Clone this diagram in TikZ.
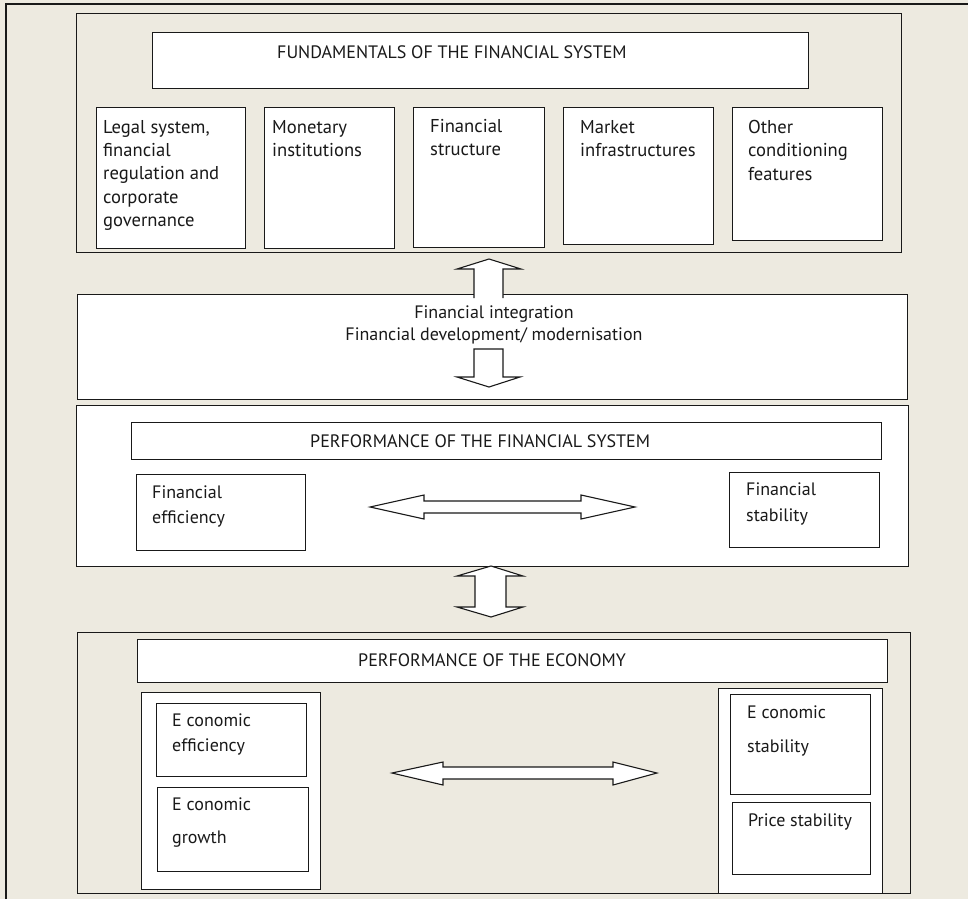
\documentclass[tikz,border=0pt]{standalone}
\usepackage{fontspec}
\setmainfont{PT Sans}
\definecolor{bg}{RGB}{237,234,224}
\definecolor{ink}{RGB}{25,25,25}
\newcommand{\boxat}[6]{\node[box, fill=#6, anchor=north west, inner sep=0pt,
  minimum width={(#4-#2)*1pt}, minimum height={(#5-#3)*1pt}] (#1) at (#2,#3) {};}
\begin{document}
\begin{tikzpicture}[x=1pt,y=-1pt,
  box/.style={draw=ink, line width=1.2pt},
  txt/.style={inner sep=0pt, anchor=north west, align=left, text=ink},
  fs/.style={font=\fontsize{18}{#1}\selectfont},
  fsb/.style={font=\fontsize{18.6}{#1}\selectfont},
  blockarrow/.style={draw=ink, fill=white, line width=1.1pt, line join=miter}]
\fill[bg] (0,0) rectangle (968,899);
\useasboundingbox (0,0) rectangle (968,899);
\coordinate (fa) at (6,899);
\coordinate (fb) at (6,4);
\coordinate (fc) at (968,4);
\draw[ink, line width=1.2pt] (fa) -- (fb) -- (fc);

% ---- Fundamentals
\boxat{fund}{76}{13}{901}{252}{bg}
\boxat{fundT}{152}{32}{808}{88}{white}
\boxat{s1}{96}{107}{245}{248}{white}
\boxat{s2}{264}{107}{394}{248}{white}
\boxat{s3}{413}{107}{544}{247}{white}
\boxat{s4}{563}{107}{713}{244}{white}
\boxat{s5}{732}{107}{882}{240}{white}
\node[txt, fs=18, anchor=west] (fundTt) at (277,52) {FUNDAMENTALS OF THE FINANCIAL SYSTEM};
\node[txt, fsb=23.3] (s1t) at (103,120) {Legal system,\\financial\\regulation and\\corporate\\governance};
\node[txt, fsb=23.3] (s2t) at (272,120) {Monetary\\institutions};
\node[txt, fsb=23.3] (s3t) at (430,119) {Financial\\structure};
\node[txt, fsb=23.3] (s4t) at (580,120) {Market\\infrastructures};
\node[txt, fsb=23.3] (s5t) at (748,120) {Other\\conditioning\\features};

% ---- Integration
\boxat{mid}{77}{294}{907}{399}{white}
\node[txt, fs=22, anchor=north, align=center] (midt) at (494,306) {Financial integration\\Financial development/ modernisation};

% ---- Performance of the financial system
\boxat{perf}{76}{405}{908}{566}{white}
\boxat{perfT}{131}{422}{881}{459}{white}
\boxat{feff}{136}{474}{305}{550}{white}
\boxat{fstab}{729}{472}{879}{547}{white}
\node[txt, fs=18, anchor=west] (perfTt) at (310,441) {PERFORMANCE OF THE FINANCIAL SYSTEM};
\node[txt, fs=25] (fefft) at (152,486) {Financial\\efficiency};
\node[txt, fs=26] (fstabt) at (746,483) {Financial\\stability};

% ---- Performance of the economy
\boxat{eco}{77}{632}{910}{893}{bg}
\boxat{ecoT}{137}{639}{887}{682}{white}
\boxat{lg}{141}{692}{320}{889}{white}
\boxat{eeff}{156}{703}{306}{776}{white}
\boxat{egr}{157}{787}{308}{871}{white}
\boxat{rg}{718}{688}{882}{893}{white}
\boxat{estab}{730}{694}{870}{794}{white}
\boxat{pstab}{732}{802}{870}{874}{white}
\node[txt, fs=18, anchor=west] (ecoTt) at (358,660) {PERFORMANCE OF THE ECONOMY};
\node[txt, fs=25] (eefft) at (172,714) {E conomic\\efficiency};
\node[txt, fs=33] (egrt) at (172,798) {E conomic\\growth};
\node[txt, fs=34] (estabt) at (747,706) {E conomic\\stability};
\node[txt, fs=20] (pstabt) at (748,814) {Price stability};

% ---- block arrows
\fill[white] (474,299) -- (474,269) -- (457,269) -- (489,259) -- (521,269) -- (503,269) -- (503,299) -- cycle;
\draw[blockarrow, fill=none] (474,298) -- (474,269) -- (457,269) -- (489,259) -- (521,269) -- (503,269) -- (503,298);
\draw[blockarrow] (474,349) -- (503,349) -- (503,377) -- (520,377) -- (489,387) -- (457,377) -- (474,377) -- cycle;
\draw[blockarrow] (370,507) -- (424,495) -- (424,501) -- (581,501) -- (581,495) -- (635,507) -- (581,519) -- (581,513) -- (424,513) -- (424,519) -- cycle;
\draw[blockarrow] (491,566) -- (523,576) -- (506,576) -- (506,607) -- (523,607) -- (491,617) -- (457,607) -- (475,607) -- (475,576) -- (457,576) -- cycle;
\draw[blockarrow] (392,773) -- (443,762) -- (443,767) -- (613,767) -- (613,762) -- (657,773) -- (613,785) -- (613,779) -- (443,779) -- (443,785) -- cycle;
\end{tikzpicture}
\end{document}
